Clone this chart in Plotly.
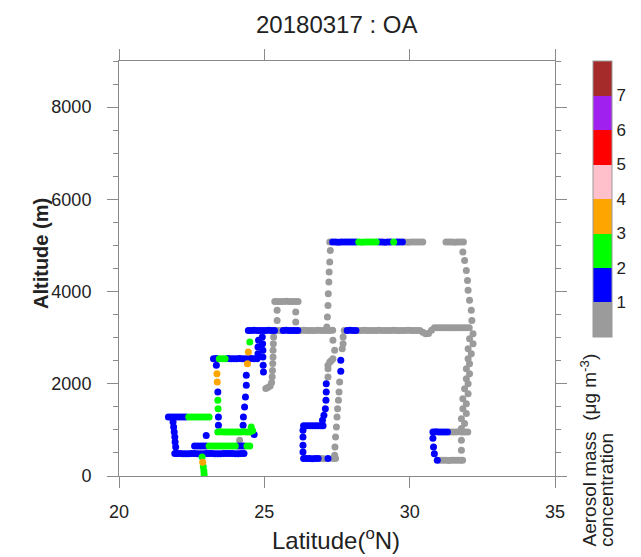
import plotly.graph_objects as go

# ---------------- DATA ----------------
# latitude (deg N), altitude (m), OA concentration (ug m-3)

# take-off column
leg01_lat = [22.93, 22.92, 22.90, 22.88, 22.86]
leg01_alt = [40, 110, 200, 300, 410]
leg01_conc = [2.4, 2.6, 2.3, 3.4, 2.5]

# level leg ~485 m
leg02_lat = [21.92, 22.0, 22.1, 22.2, 22.3, 22.4, 22.5, 22.6, 22.7, 22.8, 22.9, 23.0, 23.1,
             23.2, 23.3, 23.4, 23.5, 23.6, 23.7, 23.8, 23.9, 24.0, 24.1, 24.2, 24.3, 24.15]
leg02_alt = [490, 488, 486, 485, 485, 484, 486, 487, 485, 483, 485, 486, 488,
             487, 485, 484, 485, 486, 487, 488, 486, 485, 484, 486, 490, 774]
leg02_conc = [1.5, 1.6, 1.4, 1.5, 1.7, 1.5, 1.3, 1.6, 1.5, 1.4, 1.8, 1.5, 1.6,
              1.4, 1.5, 1.7, 1.5, 1.6, 1.4, 1.5, 1.3, 1.6, 1.5, 1.4, 1.5, 0.8]

# west climb column
leg03_lat = [21.95, 21.93, 21.92, 21.90, 21.88, 21.86]
leg03_alt = [629, 737, 845, 954, 1062, 1170]
leg03_conc = [1.4, 1.5, 1.6, 1.5, 1.4, 1.6]

# level leg ~1280 m
leg04_lat = [21.7, 21.8, 21.9, 22.0, 22.1, 22.2, 22.3, 22.4, 22.5, 22.6, 22.7, 22.8, 22.9, 23.0, 23.1]
leg04_alt = [1280, 1282, 1280, 1278, 1280, 1281, 1279, 1280, 1282, 1280, 1278, 1280, 1281, 1279, 1280]
leg04_conc = [1.5, 1.6, 1.4, 1.5, 1.7, 1.6, 1.8, 2.3, 2.5, 2.6, 2.4, 2.5, 2.3, 2.6, 2.4]

# level leg ~650 m
leg05_lat = [22.6, 22.7, 22.8, 22.9, 23.0, 23.1, 23.2, 23.3, 23.4, 23.5, 23.6, 23.7, 23.8, 23.9,
             24.0, 24.1, 24.2, 24.3, 24.4, 24.5, 23.0]
leg05_alt = [650, 652, 648, 650, 651, 650, 649, 650, 652, 650, 648, 650, 651, 650,
             649, 650, 652, 650, 648, 650, 880]
leg05_conc = [1.5, 1.6, 1.4, 1.7, 1.8, 2.3, 2.5, 2.4, 2.6, 2.5, 2.3, 2.4, 2.6, 2.5,
              2.2, 1.7, 1.6, 1.8, 2.3, 2.4, 1.5]

# level leg ~955 m
leg06_lat = [23.4, 23.5, 23.6, 23.7, 23.8, 23.9, 24.0, 24.1, 24.2, 24.3, 24.4, 24.5, 24.55, 24.6, 24.65]
leg06_alt = [955, 957, 955, 953, 955, 956, 955, 954, 955, 957, 955, 955, 1060, 980, 900]
leg06_conc = [2.5, 2.4, 2.6, 2.3, 2.5, 2.4, 2.6, 2.5, 2.3, 2.4, 2.5, 2.6, 2.4, 2.3, 1.6]

# climb column ~23.4 N
leg07_lat = [23.42, 23.42, 23.41, 23.40, 23.40, 23.38, 23.37, 23.35]
leg07_alt = [1100, 1280, 1461, 1641, 1821, 2040, 2220, 2400]
leg07_conc = [1.5, 1.6, 2.4, 2.5, 1.7, 3.3, 3.5, 1.6]

# level leg ~2545 m
leg08_lat = [23.25, 23.35, 23.45, 23.55, 23.65, 23.75, 23.85, 23.95, 24.05, 24.15, 24.25,
             24.35, 24.45, 24.55, 24.65, 24.75]
leg08_alt = [2545, 2547, 2545, 2543, 2545, 2546, 2545, 2544, 2545, 2547, 2545,
             2543, 2545, 2546, 2545, 2545]
leg08_conc = [1.5, 1.6, 2.4, 2.5, 2.3, 1.7, 1.5, 1.6, 1.4, 1.5, 1.8, 1.6, 1.5, 1.4, 1.6, 1.5]

# column ~24.4 N
leg09_lat = [24.27, 24.28, 24.32, 24.35, 24.38, 24.38, 24.42, 24.45, 24.50]
leg09_alt = [1100, 1279, 1496, 1713, 1966, 2183, 2437, 2688, 2905]
leg09_conc = [1.5, 1.6, 1.4, 1.5, 1.7, 1.6, 3.4, 3.3, 2.5]

# columns ~24.8-25.0 N
leg10_lat = [24.93, 24.94, 24.95, 24.95, 24.96, 24.97, 24.80, 24.78, 24.78]
leg10_alt = [3013, 2870, 2725, 2580, 2400, 2254, 2942, 2797, 2653]
leg10_conc = [1.5, 1.6, 1.4, 1.5, 1.7, 1.6, 1.5, 1.4, 1.6]

# descent column ~25.3 N
leg11_lat = [25.32, 25.31, 25.30, 25.30, 25.29, 25.28, 25.27, 25.25, 25.20, 25.12, 25.05]
leg11_alt = [3013, 2870, 2725, 2580, 2440, 2290, 2150, 2030, 1950, 1920, 1900]
leg11_conc = [0.7, 0.6, 0.8, 0.7, 0.6, 0.7, 0.8, 0.6, 0.7, 0.8, 0.7]

# box ~3785 m
leg12_lat = [25.44, 25.44, 25.36, 25.46, 25.56, 25.66, 25.76, 25.86, 25.96, 26.06, 26.16, 26.08, 26.08]
leg12_alt = [3375, 3592, 3787, 3787, 3785, 3787, 3789, 3787, 3785, 3787, 3787, 3555, 3338]
leg12_conc = [0.7, 0.6, 0.8, 0.7, 0.6, 0.7, 0.8, 0.6, 0.7, 0.8, 0.7, 0.6, 0.7]

# level leg ~3150 m
leg13_lat = [24.45, 24.55, 24.65, 24.75, 24.85, 24.95, 25.05, 25.15, 25.25, 25.35,
             25.45, 25.55, 25.65, 25.75, 25.85, 25.95, 26.05, 26.15,
             26.25, 26.35, 26.45, 26.55, 26.65, 26.75, 26.85, 26.95, 27.05, 27.15, 27.25, 27.35,
             27.75, 27.85, 27.95, 28.05, 28.15,
             28.25, 28.35, 28.45, 28.55, 28.65, 28.75, 28.85, 28.95, 29.05, 29.15, 29.25,
             29.35, 29.45, 29.55, 29.65, 29.75, 29.85, 29.95, 30.05, 30.15, 30.25, 30.35,
             30.45, 30.55, 30.65, 30.75,
             30.85, 30.95, 31.05, 31.15, 31.25, 31.35, 31.45, 31.55, 31.65, 31.75, 31.85, 31.95, 32.05]
leg13_alt = [3158, 3158, 3160, 3158, 3157, 3158, 3158, 3160, 3158, 3157,
             3158, 3158, 3158, 3160, 3158, 3157, 3158, 3158,
             3158, 3160, 3158, 3157, 3158, 3158, 3160, 3158, 3157, 3158, 3158, 3160,
             3158, 3158, 3160, 3158, 3157,
             3158, 3158, 3160, 3158, 3157, 3158, 3158, 3160, 3158, 3157, 3158,
             3158, 3160, 3158, 3157, 3158, 3158, 3160, 3158, 3157, 3158, 3158,
             3120, 3087, 3090, 3160,
             3215, 3217, 3215, 3213, 3215, 3217, 3215, 3213, 3215, 3217, 3215, 3213, 3215]
leg13_conc = [1.5, 1.6, 1.4, 1.5, 1.7, 1.6, 1.5, 1.4, 1.6, 1.5,
              0.7, 0.8, 1.5, 1.6, 1.4, 1.5, 1.7, 1.6,
              0.7, 0.6, 0.8, 0.7, 0.6, 0.7, 0.8, 0.6, 0.7, 0.8, 0.7, 0.6,
              0.7, 1.5, 1.6, 1.4, 1.5,
              0.7, 0.6, 0.8, 0.7, 0.6, 0.7, 0.8, 0.6, 0.7, 0.8, 0.7,
              0.6, 0.7, 0.8, 0.6, 0.7, 0.8, 0.7, 0.6, 0.7, 0.8, 0.7,
              0.6, 0.7, 0.8, 0.7,
              0.6, 0.7, 0.8, 0.6, 0.7, 0.8, 0.7, 0.6, 0.7, 0.8, 0.7, 0.6, 0.7]

# climb to 5 km ~27.2 N
leg14_lat = [27.15, 27.17, 27.19, 27.20, 27.22, 27.23, 27.25, 27.27]
leg14_alt = [3230, 3447, 3700, 3954, 4205, 4422, 4639, 4893]
leg14_conc = [0.7, 0.6, 0.8, 0.7, 0.6, 0.7, 0.8, 0.6]

# level leg ~5073 m
leg15_lat = [27.25, 27.35, 27.45, 27.55, 27.65, 27.75, 27.85, 27.95, 28.05, 28.15,
             28.25, 28.35, 28.45, 28.55, 28.65, 28.75, 28.85, 28.95, 29.05, 29.15, 29.25, 29.35,
             29.45, 29.55, 29.65, 29.75, 29.85, 29.95, 30.05, 30.15, 30.25, 30.35, 30.45,
             31.25, 31.35, 31.45, 31.55, 31.65, 31.75, 31.85]
leg15_alt = [5073, 5075, 5073, 5071, 5073, 5074, 5073, 5072, 5073, 5075,
             5073, 5071, 5073, 5074, 5073, 5072, 5073, 5075, 5073, 5071, 5073, 5074,
             5073, 5072, 5073, 5075, 5073, 5071, 5073, 5074, 5073, 5072, 5073,
             5073, 5075, 5073, 5071, 5073, 5074, 5073]
leg15_conc = [0.8, 1.5, 1.6, 1.4, 1.5, 1.7, 1.6, 1.5, 1.4, 1.6,
              2.4, 2.5, 2.6, 2.3, 2.5, 2.4, 2.6, 1.5, 1.6, 1.4, 1.5, 1.7,
              2.4, 1.6, 1.5, 1.4, 0.8, 0.7, 0.6, 0.7, 0.8, 0.6, 0.7,
              0.7, 0.6, 0.8, 0.7, 0.6, 0.7, 0.8]

# descent ~31.9-32.2 N
leg16_lat = [31.83, 31.89, 31.95, 31.99, 32.01, 32.06, 32.12, 32.14,
             32.18, 32.06, 32.18, 32.01, 32.12, 32.01, 32.06, 31.95, 32.06, 31.95,
             32.01, 31.89, 32.01, 31.83, 31.95, 31.83, 31.95, 31.78, 31.89, 31.78]
leg16_alt = [4856, 4676, 4459, 4242, 4026, 3809, 3592, 3375,
             3087, 2978, 2870, 2762, 2653, 2545, 2437, 2328, 2220, 2111,
             2003, 1894, 1786, 1678, 1569, 1461, 1353, 1244, 1136, 1028]
leg16_conc = [0.7, 0.6, 0.8, 0.7, 0.6, 0.7, 0.8, 0.6,
              0.7, 0.8, 0.7, 0.6, 0.7, 0.8, 0.6, 0.7, 0.8, 0.7,
              0.6, 0.7, 0.8, 0.6, 0.7, 0.8, 0.7, 0.6, 0.7, 0.8]

# low box ~31 N
leg17_lat = [30.80, 30.90, 31.00, 31.10, 31.20, 31.30, 31.40, 31.50, 31.60, 31.70, 31.80, 31.90, 32.00,
             30.80, 30.82, 30.85, 30.95,
             31.05, 31.15, 31.25, 31.35, 31.45, 31.55, 31.65, 31.75, 31.82,
             31.78, 31.78]
leg17_alt = [955, 957, 955, 953, 955, 956, 955, 954, 955, 957, 955, 953, 955,
             817, 629, 485, 340,
             340, 342, 340, 338, 340, 341, 340, 339, 340,
             774, 557]
leg17_conc = [1.5, 1.6, 1.4, 1.5, 1.7, 1.6, 0.7, 0.8, 0.6, 0.7, 0.8, 0.6, 0.7,
              1.5, 1.4, 1.6, 1.5,
              0.7, 0.6, 0.8, 0.7, 0.6, 0.7, 0.8, 0.6, 0.7,
              0.8, 0.7]

# profiles and low box ~26.3-27.7 N
leg18_lat = [27.36, 27.42, 27.36, 27.30, 27.25, 27.19, 27.19, 27.19,
             27.13, 27.13, 27.12, 27.10, 27.05, 27.00,
             26.35, 26.45, 26.55, 26.65, 26.75, 26.85, 26.95, 27.02,
             26.33, 26.33, 26.33, 26.33,
             26.35, 26.45, 26.55, 26.65, 26.75, 26.85, 26.95, 27.05, 27.19, 27.35, 27.45,
             27.71, 27.71, 27.68, 27.63, 27.63, 27.59, 27.57, 27.55, 27.52, 27.50, 27.48,
             27.45, 27.43, 27.42]
leg18_alt = [2942, 2725, 2545, 2500, 2471, 2400, 2328, 2146,
             2003, 1821, 1641, 1461, 1316, 1207,
             1090, 1092, 1090, 1088, 1090, 1091, 1090, 1089,
             991, 846, 666, 520,
             377, 379, 377, 375, 377, 378, 377, 376, 377, 379, 377,
             3013, 2870, 2760, 2508, 2270, 2038, 1821, 1641, 1461, 1279, 1062,
             845, 629, 449]
leg18_conc = [0.7, 0.6, 0.8, 0.7, 0.6, 0.7, 0.8, 0.6,
              1.5, 1.6, 1.4, 1.5, 1.7, 1.6,
              1.5, 1.4, 1.6, 1.5, 1.7, 1.6, 1.5, 1.4,
              1.6, 1.5, 1.4, 1.6,
              1.5, 1.6, 1.4, 1.5, 1.7, 1.6, 0.7, 0.8, 1.5, 0.7, 0.6,
              0.7, 0.8, 0.6, 1.5, 1.6, 0.7, 0.8, 0.6, 0.7, 0.8, 0.7,
              0.6, 0.7, 0.8]

# colour classes (ug m-3) and colour-bar labels
class_colors = ['#9b9b9b', '#0000ff', '#00ff00', '#ffa500',
                '#ffc0cb', '#ff0000', '#a020f0', '#a52a2a']
cbar_ticks = [1, 2, 3, 4, 5, 6, 7]
x_ticks = [20, 25, 30, 35]
y_ticks = [0, 2000, 4000, 6000, 8000]

# ---------------- BUILD ----------------
legs = [
    (leg01_lat, leg01_alt, leg01_conc), (leg02_lat, leg02_alt, leg02_conc),
    (leg03_lat, leg03_alt, leg03_conc), (leg04_lat, leg04_alt, leg04_conc),
    (leg05_lat, leg05_alt, leg05_conc), (leg06_lat, leg06_alt, leg06_conc),
    (leg07_lat, leg07_alt, leg07_conc), (leg08_lat, leg08_alt, leg08_conc),
    (leg09_lat, leg09_alt, leg09_conc), (leg10_lat, leg10_alt, leg10_conc),
    (leg11_lat, leg11_alt, leg11_conc), (leg12_lat, leg12_alt, leg12_conc),
    (leg13_lat, leg13_alt, leg13_conc), (leg14_lat, leg14_alt, leg14_conc),
    (leg15_lat, leg15_alt, leg15_conc), (leg16_lat, leg16_alt, leg16_conc),
    (leg17_lat, leg17_alt, leg17_conc), (leg18_lat, leg18_alt, leg18_conc),
]
lat, alt, conc = [], [], []
for a, b, c in legs:
    n = min(len(a), len(b), len(c))
    lat += a[:n]
    alt += b[:n]
    conc += c[:n]
order = sorted(range(len(conc)), key=lambda i: conc[i])
lat = [lat[i] for i in order]
alt = [alt[i] for i in order]
conc = [conc[i] for i in order]

nc = len(class_colors)
cscale = []
for i, col in enumerate(class_colors):
    cscale.append([i / nc, col])
    cscale.append([(i + 1) / nc, col])

W, H = 641, 557
L, R, T, B = 119, 86, 61, 81
pw, ph = W - L - R, H - T - B


def px_x(px):
    return (px - L) / pw


def px_y(py):
    return (H - B - py) / ph


FONT = "Liberation Sans, Arial, Helvetica, sans-serif"
AX = "#8a8a8a"

fig = go.Figure()
fig.add_trace(go.Scatter(
    x=lat, y=alt, mode="markers",
    marker=dict(
        size=7, color=conc, colorscale=cscale, cmin=0, cmax=nc,
        line=dict(width=0),
        showscale=True,
        colorbar=dict(
            thickness=19, len=276, lenmode="pixels",
            x=px_x(593), xanchor="left", xpad=0,
            y=px_y(199), yanchor="middle", ypad=0,
            tickvals=cbar_ticks, ticks="", ticklen=0,
            tickfont=dict(family=FONT, size=17, color="#222"),
            outlinewidth=1, outlinecolor="#999",
        ),
    ),
    hoverinfo="skip",
))

fig.update_layout(
    width=W, height=H,
    margin=dict(l=L, r=R, t=T, b=B, pad=0),
    paper_bgcolor="white", plot_bgcolor="white",
    showlegend=False,
    font=dict(family=FONT, color="#222"),
    xaxis=dict(
        range=[20, 35], tickvals=x_ticks, showgrid=False, zeroline=False,
        showline=True, linecolor=AX, linewidth=1, mirror="ticks",
        ticks="outside", ticklen=11, tickcolor=AX, tickwidth=1,
        tickfont=dict(family=FONT, size=18, color="#222"),
        ticklabelstandoff=8,
    ),
    yaxis=dict(
        range=[0, 9000], tickvals=y_ticks, showgrid=False, zeroline=False,
        showline=True, linecolor=AX, linewidth=1, mirror="ticks",
        ticks="outside", ticklen=11, tickcolor=AX, tickwidth=1,
        tickfont=dict(family=FONT, size=18, color="#222"),
        ticklabelstandoff=12,
        minor=dict(dtick=500, tick0=0, ticks="outside", ticklen=5, tickcolor=AX, tickwidth=1),
    ),
    annotations=[
        dict(text="20180317 : OA", x=px_x(336), y=px_y(25), xref="paper", yref="paper",
             showarrow=False, xanchor="center", yanchor="middle",
             font=dict(family=FONT, size=24, color="#222")),
        dict(text="<b>Altitude (m)</b>", x=px_x(41), y=px_y(254), xref="paper", yref="paper",
             showarrow=False, textangle=-90, xanchor="center", yanchor="middle",
             font=dict(family=FONT, size=20, color="#222")),
        dict(text="Latitude(<sup>o</sup>N)", x=px_x(336), y=px_y(539), xref="paper", yref="paper",
             showarrow=False, xanchor="center", yanchor="middle",
             font=dict(family=FONT, size=24, color="#222")),
        dict(text="Aerosol mass  (\u03bcg m<sup>-3</sup>)", x=px_x(588), y=px_y(549),
             xref="paper", yref="paper", showarrow=False, textangle=-90,
             xanchor="center", yanchor="bottom",
             font=dict(family=FONT, size=19, color="#222")),
        dict(text="concentration", x=px_x(606), y=px_y(549),
             xref="paper", yref="paper", showarrow=False, textangle=-90,
             xanchor="center", yanchor="bottom",
             font=dict(family=FONT, size=19, color="#222")),
    ],
)

fig.write_html("out.html")
